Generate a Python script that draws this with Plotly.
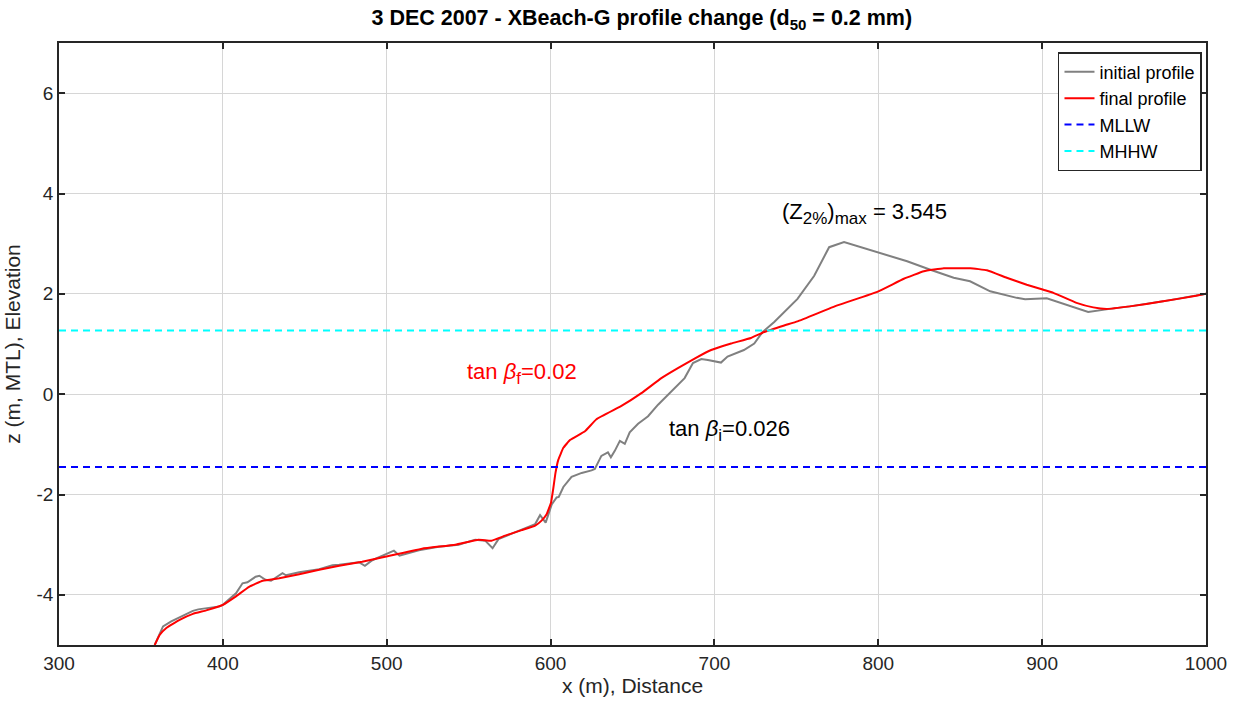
import plotly.graph_objects as go

# initial profile (gray)
x_init = [358.4, 363.5, 368.5, 381.7, 385.0, 398.0, 400.0, 408.0, 412.0, 415.0, 420.0, 422.3,
          426.0, 429.4, 436.4, 438.5, 446.6, 458.8, 466.9, 471.0, 483.0, 486.7, 491.2, 504.4,
          507.8, 519.6, 531.7, 543.9, 554.0, 560.1, 564.6, 568.2, 576.3, 584.4, 590.6, 593.6,
          597.0, 600.7, 603.7, 605.0, 607.8, 612.8, 619.0, 625.0, 627.0, 631.0, 635.0, 636.8,
          639.2, 642.3, 645.3, 648.3, 653.4, 657.5, 659.5, 665.6, 675.7, 681.8, 686.9, 692.0,
          696.0, 704.0, 708.0, 718.0, 724.3, 729.4, 736.5, 750.7, 760.9, 770.0, 779.1, 791.3,
          805.5, 817.6, 831.8, 846.0, 856.0, 868.3, 884.5, 889.6, 902.8, 928.1, 941.3, 953.5,
          973.8, 994.0, 1000.0]
z_init = [-5.00, -4.63, -4.53, -4.32, -4.29, -4.23, -4.20, -3.97, -3.77, -3.75, -3.64, -3.62,
          -3.70, -3.72, -3.57, -3.61, -3.55, -3.49, -3.41, -3.40, -3.35, -3.42, -3.31, -3.12,
          -3.22, -3.11, -3.04, -3.00, -2.90, -2.92, -3.07, -2.89, -2.78, -2.68, -2.59, -2.41,
          -2.56, -2.20, -2.06, -2.05, -1.85, -1.65, -1.57, -1.52, -1.49, -1.23, -1.16, -1.26,
          -1.13, -0.93, -0.99, -0.76, -0.59, -0.49, -0.44, -0.21, 0.12, 0.32, 0.62, 0.70,
          0.68, 0.63, 0.75, 0.88, 1.01, 1.24, 1.44, 1.90, 2.36, 2.93, 3.03, 2.91,
          2.78, 2.65, 2.48, 2.32, 2.25, 2.05, 1.92, 1.89, 1.91, 1.64, 1.70, 1.75,
          1.85, 1.96, 2.00]

# final profile (red)
x_final = [358.4, 361.4, 365.5, 373.6, 381.7, 389.8, 400.0, 408.0, 416.0, 424.3, 434.4, 446.6,
           458.8, 471.0, 485.0, 499.0, 521.6, 541.9, 556.0, 564.0, 572.3, 582.4, 590.6, 594.5,
           597.5, 600.3, 601.7, 603.0, 604.7, 607.8, 612.0, 621.0, 628.0, 643.0, 655.4, 667.6,
           677.7, 687.9, 698.0, 710.2, 722.3, 730.4, 742.6, 750.7, 775.0, 799.4, 815.6, 827.8,
           840.0, 846.0, 856.2, 866.3, 878.4, 890.6, 900.8, 906.9, 921.0, 931.2, 939.3, 953.5,
           973.8, 994.0, 1000.0]
z_final = [-5.00, -4.80, -4.66, -4.50, -4.38, -4.31, -4.20, -4.03, -3.84, -3.72, -3.67, -3.59,
           -3.50, -3.42, -3.34, -3.24, -3.08, -3.00, -2.90, -2.92, -2.82, -2.71, -2.62, -2.52,
           -2.40, -2.16, -1.87, -1.57, -1.31, -1.07, -0.91, -0.74, -0.50, -0.24, 0.02, 0.32,
           0.52, 0.71, 0.88, 1.01, 1.12, 1.24, 1.37, 1.45, 1.77, 2.04, 2.30, 2.45,
           2.51, 2.51, 2.51, 2.47, 2.32, 2.18, 2.08, 2.02, 1.82, 1.73, 1.70, 1.75,
           1.85, 1.96, 2.00]

x_span = [300, 1000]
MLLW = -1.45
MHHW = 1.27

x_ticks = [300, 400, 500, 600, 700, 800, 900, 1000]
y_ticks = [-4, -2, 0, 2, 4, 6]
y_ticktext = ["-4", "-2", "0", "2", "4", "6"]

FONT = "Liberation Sans, Arial, Helvetica, sans-serif"
AXC = "#262626"


def sub(t, size=17):
    return "<sub><span style='font-size:%dpx'>%s</span></sub>" % (size, t)


fig = go.Figure()
fig.add_trace(go.Scatter(x=x_init, y=z_init, mode="lines", name="initial profile",
                         line=dict(color="#808080", width=2)))
fig.add_trace(go.Scatter(x=x_final, y=z_final, mode="lines", name="final profile",
                         line=dict(color="#ff0000", width=2, shape="spline", smoothing=0.3)))
fig.add_trace(go.Scatter(x=x_span, y=[MLLW, MLLW], mode="lines", name="MLLW",
                         line=dict(color="#0000ff", width=2, dash="7px,5px")))
fig.add_trace(go.Scatter(x=x_span, y=[MHHW, MHHW], mode="lines", name="MHHW",
                         line=dict(color="#00ffff", width=2, dash="7px,5px")))

axis_common = dict(showline=True, linecolor=AXC, linewidth=1.5, mirror="ticks",
                   ticks="inside", ticklen=6, tickcolor=AXC, tickwidth=1.5,
                   showgrid=True, gridcolor="#d6d6d6", gridwidth=1, zeroline=False,
                   tickfont=dict(size=19, color=AXC, family=FONT))

fig.update_xaxes(range=[300, 1000], tickvals=x_ticks,
                 title=dict(text="x (m), Distance", font=dict(size=21, color=AXC, family=FONT), standoff=4),
                 **axis_common)
fig.update_yaxes(range=[-5, 7], tickvals=y_ticks, ticktext=y_ticktext,
                 title=dict(text="z (m, MTL), Elevation", font=dict(size=21, color=AXC, family=FONT), standoff=10),
                 **axis_common)

fig.add_annotation(x=740, y=3.6, text="(Z" + sub("2%") + ")" + sub("max") + " = 3.545", showarrow=False,
                   xanchor="left", yanchor="middle", font=dict(size=22, color="black", family=FONT))
fig.add_annotation(x=547.6, y=0.42, text="tan <i>β</i>" + sub("f") + "=0.02", showarrow=False,
                   xanchor="left", yanchor="middle", font=dict(size=22, color="#ff0000", family=FONT))
fig.add_annotation(x=671, y=-0.73, text="tan <i>β</i>" + sub("i") + "=0.026", showarrow=False,
                   xanchor="left", yanchor="middle", font=dict(size=22, color="black", family=FONT))

fig.update_layout(
    width=1239, height=704,
    margin=dict(l=59, r=29, t=43, b=57),
    paper_bgcolor="white", plot_bgcolor="white",
    title=dict(text="<b>3 DEC 2007 - XBeach-G profile change (d<sub>50</sub> = 0.2 mm)</b>",
               x=0.518, xanchor="center", y=0.975, yanchor="middle",
               font=dict(size=21.5, color="black", family=FONT)),
    legend=dict(x=0.9965, y=0.985, xanchor="right", yanchor="top",
                bgcolor="white", bordercolor=AXC, borderwidth=1.5,
                font=dict(size=18, color="black", family=FONT),
                tracegroupgap=0, itemwidth=30),
    showlegend=True,
)

fig.write_html("out.html")
